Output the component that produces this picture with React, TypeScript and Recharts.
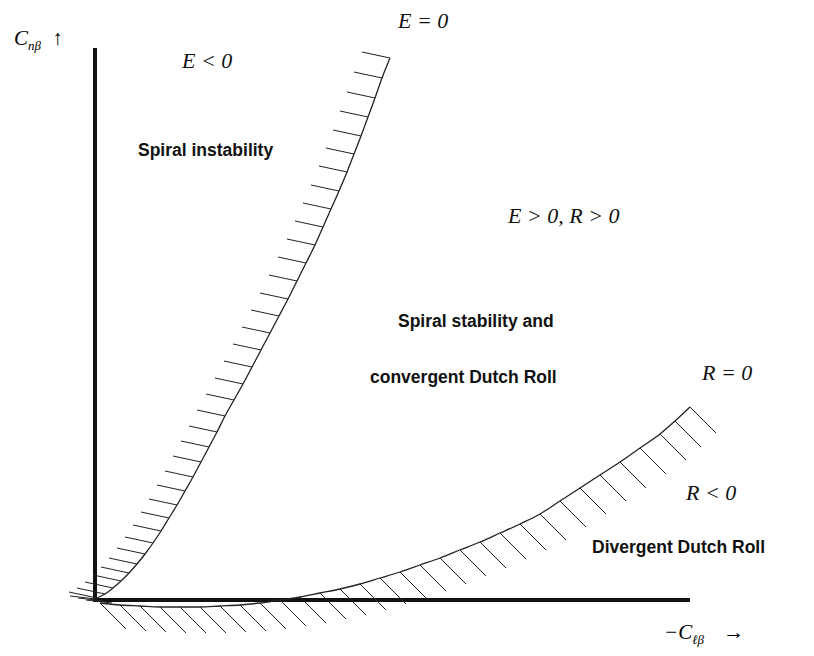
import { ComposedChart, Line, Scatter, XAxis, YAxis } from "recharts";

// coordinates in pixel units (y grows downward)
const yAxisLine = [{ x: 95, y: 48 }, { x: 95, y: 601 }];
const xAxisLine = [{ x: 93, y: 600 }, { x: 690, y: 600 }];

const eCurve = [
  [97, 598], [105, 594], [113, 588], [121, 581], [129, 573], [137, 564], [145, 554],
  [153, 543], [161, 531], [169, 518], [177, 505], [185, 491], [193, 477], [201, 462],
  [209, 447], [217, 432], [225, 416], [234, 400], [243, 384], [252, 367], [261, 350],
  [270, 333], [279, 316], [288, 299], [297, 281], [306, 263], [315, 245], [323, 227],
  [331, 209], [339, 191], [347, 172], [354, 154], [361, 136], [368, 117], [375, 98],
  [382, 78], [390, 58],
].map(([x, y]) => ({ x, y }));

const rCurve = [
  [100, 603], [120, 605], [140, 606], [160, 607], [180, 607], [200, 607],
  [220, 606], [240, 605], [260, 603], [280, 600], [300, 597], [320, 593], [340, 589],
  [360, 584], [380, 578], [400, 572], [420, 565], [440, 558], [460, 550], [480, 542],
  [500, 533], [520, 524], [540, 514], [560, 501], [580, 488], [600, 475], [620, 462],
  [640, 448], [660, 434], [675, 421], [690, 407],
].map(([x, y]) => ({ x, y }));

const originHatch = [[70, 596], [78, 598], [86, 600]].map(([x, y]) => ({ x, y }));

const labels = [
  { text: "E = 0", x: 398, y: 8, math: true },
  { text: "E < 0", x: 182, y: 48, math: true },
  { text: "Spiral instability", x: 138, y: 140, math: false },
  { text: "E > 0, R > 0", x: 508, y: 203, math: true },
  { text: "Spiral stability and", x: 398, y: 311, math: false },
  { text: "convergent Dutch Roll", x: 370, y: 367, math: false },
  { text: "R = 0", x: 702, y: 360, math: true },
  { text: "R < 0", x: 686, y: 480, math: true },
  { text: "Divergent Dutch Roll", x: 592, y: 537, math: false },
];

const eHatch = (p: any) => (
  <line x1={p.cx} y1={p.cy} x2={p.cx - 28} y2={p.cy - 6} stroke="#222" strokeWidth={1} />
);
const rHatch = (p: any) => (
  <line x1={p.cx} y1={p.cy} x2={p.cx + 26} y2={p.cy + 26} stroke="#222" strokeWidth={1} />
);
const oHatch = (p: any) => (
  <line x1={p.cx} y1={p.cy} x2={p.cx + 26} y2={p.cy + 3} stroke="#222" strokeWidth={1} />
);

export default function App() {
  return (
    <div style={{ position: "absolute", left: 0, top: 0, width: 814, height: 656, background: "#fff" }}>
      <ComposedChart width={814} height={656} margin={{ top: 0, right: 0, bottom: 0, left: 0 }}>
        <XAxis type="number" dataKey="x" domain={[0, 814]} hide />
        <YAxis type="number" dataKey="y" domain={[0, 656]} reversed hide />
        <Line data={yAxisLine} dataKey="y" stroke="#111" strokeWidth={4} dot={false} activeDot={false} isAnimationActive={false} />
        <Line data={xAxisLine} dataKey="y" stroke="#111" strokeWidth={4} dot={false} activeDot={false} isAnimationActive={false} />
        <Line data={eCurve} dataKey="y" type="monotone" stroke="#222" strokeWidth={1.3} dot={false} activeDot={false} isAnimationActive={false} />
        <Line data={rCurve} dataKey="y" type="monotone" stroke="#222" strokeWidth={1.3} dot={false} activeDot={false} isAnimationActive={false} />
        <Scatter data={eCurve} dataKey="y" shape={eHatch} isAnimationActive={false} />
        <Scatter data={rCurve} dataKey="y" shape={rHatch} isAnimationActive={false} />
        <Scatter data={originHatch} dataKey="y" shape={oHatch} isAnimationActive={false} />
      </ComposedChart>
      <div style={{ position: "absolute", left: 14, top: 26, fontFamily: "Liberation Serif", fontStyle: "italic", fontSize: 21 }}>
        C<sub style={{ fontSize: 13 }}>nβ</sub> <span style={{ fontStyle: "normal", marginLeft: 6 }}>↑</span>
      </div>
      <div style={{ position: "absolute", left: 664, top: 620, fontFamily: "Liberation Serif", fontStyle: "italic", fontSize: 21 }}>
        −C<sub style={{ fontSize: 13 }}>ℓβ</sub> <span style={{ fontStyle: "normal", marginLeft: 14 }}>→</span>
      </div>
      {labels.map((l) => (
        <div
          key={l.text}
          style={{
            position: "absolute",
            left: l.x,
            top: l.y,
            whiteSpace: "nowrap",
            fontFamily: l.math ? "Liberation Serif" : "Liberation Sans",
            fontStyle: l.math ? "italic" : "normal",
            fontWeight: l.math ? "normal" : "bold",
            fontSize: l.math ? 22 : 17.5,
            color: "#111",
          }}
        >
          {l.text}
        </div>
      ))}
    </div>
  );
}
